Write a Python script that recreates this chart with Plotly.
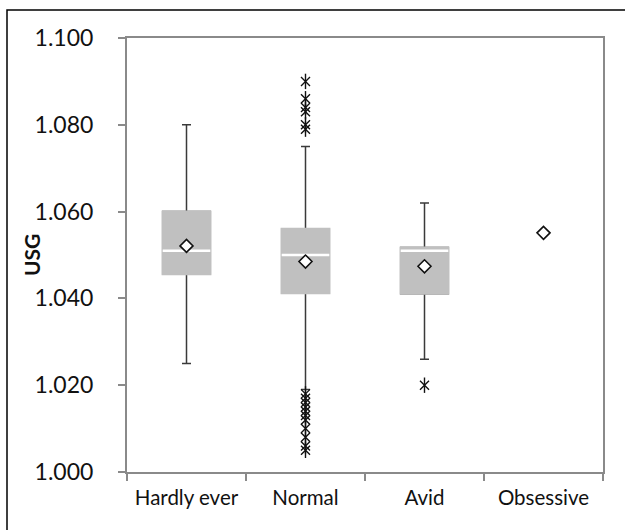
import plotly.graph_objects as go

categories = ["Hardly ever", "Normal", "Avid", "Obsessive"]
box_cats = ["Hardly ever", "Normal", "Avid"]
q1 = [1.0456, 1.0412, 1.0411]
median = [1.0510, 1.0500, 1.0510]
q3 = [1.0600, 1.0560, 1.0517]
lower_fence = [1.025, 1.019, 1.026]
upper_fence = [1.080, 1.075, 1.062]
means = [1.0521, 1.0485, 1.0474, 1.0551]

outlier_cats = (["Normal"] * 6) + (["Normal"] * 11) + ["Avid"]
outlier_vals = [1.090, 1.086, 1.084, 1.083, 1.080, 1.079,
                1.018, 1.017, 1.016, 1.015, 1.014, 1.013, 1.012, 1.010, 1.008, 1.006, 1.005,
                1.020]

y_title = "USG"

FILL = "#c0c0c0"
WHISK = "#3a3a3a"
FONT = "Lato"
TXT = "#111111"

fig = go.Figure()
# whiskers + caps
fig.add_trace(go.Box(x=box_cats, q1=q1, median=median, q3=q3,
                     lowerfence=lower_fence, upperfence=upper_fence,
                     boxpoints=False, fillcolor=FILL, line=dict(color=WHISK, width=1.5),
                     whiskerwidth=0.19, width=0.4, showlegend=False, hoverinfo="skip"))
# gray box body covering outline
fig.add_trace(go.Box(x=box_cats, q1=q1, median=median, q3=q3,
                     lowerfence=q1, upperfence=q3,
                     boxpoints=False, fillcolor=FILL, line=dict(color=FILL, width=2.2),
                     whiskerwidth=0, width=0.4, showlegend=False, hoverinfo="skip"))
# white median line
fig.add_trace(go.Box(x=box_cats, q1=median, median=median, q3=median,
                     lowerfence=median, upperfence=median,
                     boxpoints=False, fillcolor="white", line=dict(color="white", width=2.5),
                     whiskerwidth=0, width=0.4, showlegend=False, hoverinfo="skip"))
# outliers (6-armed star)
fig.add_trace(go.Scatter(x=outlier_cats, y=outlier_vals, mode="markers",
                         marker=dict(symbol="x-thin-open", size=9, color=TXT,
                                     line=dict(color=TXT, width=1.4)),
                         showlegend=False, hoverinfo="skip"))
fig.add_trace(go.Scatter(x=outlier_cats, y=outlier_vals, mode="markers",
                         marker=dict(symbol="line-ns-open", size=11, color=TXT,
                                     line=dict(color=TXT, width=1.4)),
                         showlegend=False, hoverinfo="skip"))
# means
fig.add_trace(go.Scatter(x=categories, y=means, mode="markers",
                         marker=dict(symbol="diamond", size=10, color="white",
                                     line=dict(color=TXT, width=1.6)),
                         showlegend=False, hoverinfo="skip"))

L, R, T, B = 127, 22, 38, 58
W, H = 625, 530
pw, ph = W - L - R, H - T - B

fig.update_layout(
    width=W, height=H, autosize=False,
    margin=dict(l=L, r=R, t=T, b=B, pad=0),
    paper_bgcolor="white", plot_bgcolor="white",
    boxmode="overlay",
    font=dict(family=FONT, size=20, color=TXT),
    xaxis=dict(type="category", categoryorder="array", categoryarray=categories,
               range=[-0.5, 3.5], tickson="boundaries", ticks="outside", ticklen=7,
               tickwidth=1.5, tickcolor="#8a8a8a", tickangle=0, automargin=False,
               showline=True, linecolor="#8a8a8a", linewidth=2, mirror=True,
               showgrid=False, ticklabelstandoff=6,
               tickfont=dict(size=20.5, family=FONT, color=TXT)),
    yaxis=dict(range=[1.0, 1.1], dtick=0.02, tick0=1.0, tickformat=".3f",
               ticks="outside", ticklen=7, tickwidth=1.5, tickcolor="#8a8a8a",
               showline=True, linecolor="#8a8a8a", linewidth=2, mirror=True,
               showgrid=False, zeroline=False, ticklabelstandoff=20, automargin=False,
               tickfont=dict(size=23, family=FONT, color=TXT)),
)

fig.add_annotation(text="<b>" + y_title + "</b>", xref="paper", yref="paper",
                   x=(31 - L) / pw, y=0.5, textangle=-90, showarrow=False,
                   xanchor="center", yanchor="middle",
                   font=dict(size=21, family=FONT, color=TXT))

# outer frame
fig.add_shape(type="rect", xref="paper", yref="paper",
              x0=(7 - L) / pw, x1=(W + 3 - L) / pw,
              y0=(H - B - (H + 3)) / ph, y1=(H - B - 10) / ph,
              line=dict(color="black", width=1.5), fillcolor="rgba(0,0,0,0)")

fig.write_html("out.html")
